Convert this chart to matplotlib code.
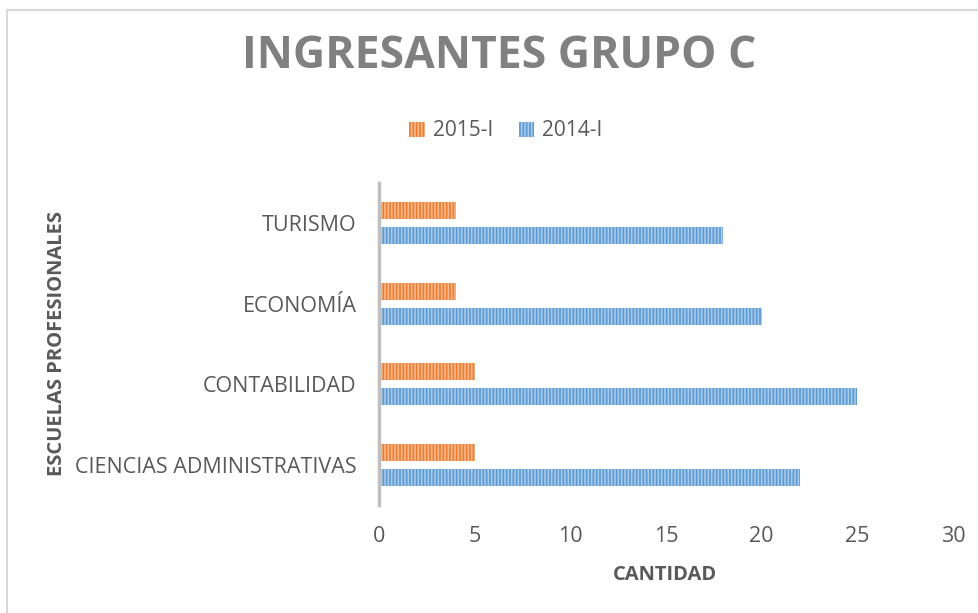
import matplotlib.pyplot as plt
import numpy as np
from matplotlib.lines import Line2D

# Datos
escuelas = ['CIENCIAS ADMINISTRATIVAS', 'CONTABILIDAD', 'ECONOMÍA', 'TURISMO']
ingresantes_2015 = [5, 5, 4, 4]
ingresantes_2014 = [22, 25, 20, 18]
series = ['2015-I', '2014-I']

plt.rcParams['font.family'] = ['Open Sans', 'DejaVu Sans']
plt.rcParams['hatch.linewidth'] = 1.2

gris_texto = '#595959'

fig = plt.figure(figsize=(9.79, 6.13), dpi=100)
ax = fig.add_axes([379/979, 1 - 505/613, 574/979, 322/613])

y = np.arange(len(escuelas))
alto = 0.21
ax.barh(y + 0.155, ingresantes_2015, height=alto, color='#ED7D31',
        edgecolor='#F6B98E', hatch='|||||', linewidth=0, label=series[0])
ax.barh(y - 0.155, ingresantes_2014, height=alto, color='#5B9BD5',
        edgecolor='#A9CBEA', hatch='|||||', linewidth=0, label=series[1])

ax.set_xlim(0, 30)
ax.set_ylim(-0.5, 3.5)
ax.set_xticks(range(0, 31, 5))
ax.set_yticks(y)
ax.set_yticklabels(escuelas)
ax.tick_params(axis='both', length=0, labelsize=15.5, colors=gris_texto)
ax.tick_params(axis='x', pad=15)
ax.tick_params(axis='y', pad=16)

for lado in ['top', 'right', 'bottom']:
    ax.spines[lado].set_visible(False)
ax.spines['left'].set_color('#BFBFBF')
ax.spines['left'].set_linewidth(2.5)

# Titulo y etiquetas de ejes
fig.text(499/979, 1 - 57/613, 'INGRESANTES GRUPO C', ha='center', va='center',
         fontsize=32, fontweight='bold', color='#808080')
fig.text(665/979, 1 - 575/613, 'CANTIDAD', ha='center', va='center',
         fontsize=14.5, fontweight='bold', color=gris_texto)
fig.text(57/979, 1 - 343/613, 'ESCUELAS PROFESIONALES', ha='center', va='center',
         rotation=90, fontsize=14.5, fontweight='bold', color=gris_texto)

# Leyenda
fig.legend(loc='center', bbox_to_anchor=(506/979, 1 - 131/613), ncol=2,
           frameon=False, fontsize=15, labelcolor=gris_texto,
           handlelength=0.75, handleheight=0.75, handletextpad=0.4,
           columnspacing=1.2)

# Borde del area del grafico
fig.add_artist(Line2D([7/979, 7/979], [0, 1 - 10/613], transform=fig.transFigure,
                      color='#D9D9D9', linewidth=1.5))
fig.add_artist(Line2D([7/979, 1], [1 - 10/613, 1 - 10/613], transform=fig.transFigure,
                      color='#D9D9D9', linewidth=1.5))

plt.savefig('out.png', dpi=100)
